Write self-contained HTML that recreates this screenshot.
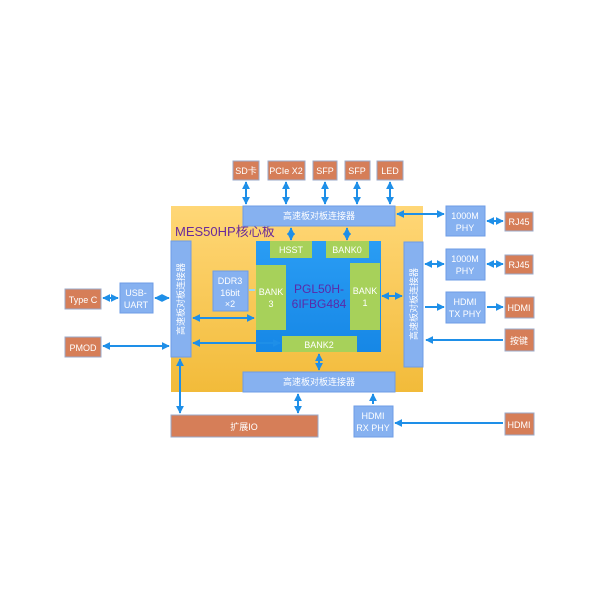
<!DOCTYPE html>
<html><head><meta charset="utf-8"><style>
html,body{margin:0;padding:0;background:#fff;}
svg{display:block;}
text{font-family:"Liberation Sans","Noto Sans CJK SC",sans-serif;}
</style></head><body>
<svg width="600" height="600" viewBox="0 0 600 600" xmlns="http://www.w3.org/2000/svg">
<defs>
<linearGradient id="yg" x1="0" y1="0" x2="0" y2="1"><stop offset="0" stop-color="#ffd777"/><stop offset="1" stop-color="#f2bb3a"/></linearGradient>
<linearGradient id="bg" x1="0" y1="0" x2="0" y2="1"><stop offset="0" stop-color="#2a9df4"/><stop offset="1" stop-color="#1687e6"/></linearGradient>
<marker id="a" viewBox="0 0 10 10" refX="9" refY="5" markerWidth="4" markerHeight="4" orient="auto-start-reverse"><path d="M0,0L10,5L0,10z" fill="#1e8fe8"/></marker>
</defs>
<rect x="171" y="206" width="252" height="186" fill="url(#yg)"/>
<text x="175" y="236" font-size="13" fill="#6a2a9a">MES50HP核心板</text>
<g fill="#d67e58" stroke="#9aa8c8" stroke-width="1">
<rect x="233" y="161" width="26" height="19"/><rect x="268" y="161" width="37" height="19"/>
<rect x="313" y="161" width="24" height="19"/><rect x="345" y="161" width="25" height="19"/>
<rect x="377" y="161" width="26" height="19"/>
<rect x="65" y="289" width="36" height="20"/><rect x="65" y="337" width="36" height="20"/>
<rect x="505" y="212" width="28" height="19"/><rect x="505" y="255" width="28" height="19"/>
<rect x="505" y="297" width="29" height="21"/><rect x="505" y="329" width="29" height="22"/>
<rect x="505" y="413" width="29" height="22"/>
<rect x="171" y="415" width="147" height="22"/>
</g>
<g fill="#fff" font-size="9" text-anchor="middle">
<text x="246" y="174">SD卡</text><text x="286" y="174">PCIe X2</text><text x="325" y="174">SFP</text><text x="357" y="174">SFP</text><text x="390" y="174">LED</text>
<text x="83" y="303">Type C</text><text x="83" y="351">PMOD</text>
<text x="519" y="225">RJ45</text><text x="519" y="268">RJ45</text><text x="519" y="311">HDMI</text><text x="519" y="344">按键</text><text x="519" y="428">HDMI</text>
<text x="244" y="430">扩展IO</text>
</g>
<g fill="#86b1f0" stroke="#6e9ce6" stroke-width="1">
<rect x="243" y="206" width="152" height="20"/><rect x="243" y="372" width="152" height="20"/>
<rect x="171" y="241" width="20" height="116"/><rect x="404" y="242" width="19" height="125"/>
<rect x="120" y="283" width="33" height="30"/><rect x="213" y="271" width="35" height="40"/>
<rect x="446" y="206" width="39" height="30"/><rect x="446" y="249" width="39" height="31"/>
<rect x="446" y="292" width="39" height="31"/><rect x="354" y="406" width="39" height="31"/>
</g>
<g fill="#fff" font-size="9" text-anchor="middle">
<text x="319" y="219">高速板对板连接器</text><text x="319" y="385">高速板对板连接器</text>
<text transform="translate(184,299) rotate(-90)">高速板对板连接器</text>
<text transform="translate(417,304) rotate(-90)">高速板对板连接器</text>
<text x="136" y="296">USB-</text><text x="136" y="308">UART</text>
<text x="230" y="284">DDR3</text><text x="230" y="296">16bit</text><text x="230" y="307">×2</text>
<text x="465" y="219">1000M</text><text x="465" y="231">PHY</text>
<text x="465" y="262">1000M</text><text x="465" y="274">PHY</text>
<text x="465" y="305">HDMI</text><text x="465" y="317">TX PHY</text>
<text x="373" y="419">HDMI</text><text x="373" y="431">RX PHY</text>
</g>
<rect x="256" y="241" width="125" height="111" fill="url(#bg)"/>
<g fill="#a7d15a">
<rect x="270" y="241" width="42" height="17"/><rect x="326" y="241" width="43" height="17"/>
<rect x="256" y="265" width="30" height="65"/><rect x="350" y="263" width="30" height="67"/>
<rect x="282" y="336" width="75" height="16"/>
</g>
<g fill="#fff" font-size="9" text-anchor="middle">
<text x="291" y="253">HSST</text><text x="347" y="253">BANK0</text>
<text x="271" y="295">BANK</text><text x="271" y="307">3</text>
<text x="365" y="294">BANK</text><text x="365" y="306">1</text>
<text x="319" y="348">BANK2</text>
</g>
<text x="319" y="293" font-size="12" fill="#5a2aa8" text-anchor="middle">PGL50H-</text>
<text x="319" y="308" font-size="12" fill="#5a2aa8" text-anchor="middle">6IFBG484</text>
<g stroke="#1e8fe8" stroke-width="2" fill="none">
<line x1="246" y1="182" x2="246" y2="204" marker-start="url(#a)" marker-end="url(#a)"/>
<line x1="286" y1="182" x2="286" y2="204" marker-start="url(#a)" marker-end="url(#a)"/>
<line x1="325" y1="182" x2="325" y2="204" marker-start="url(#a)" marker-end="url(#a)"/>
<line x1="357" y1="182" x2="357" y2="204" marker-start="url(#a)" marker-end="url(#a)"/>
<line x1="390" y1="182" x2="390" y2="204" marker-start="url(#a)" marker-end="url(#a)"/>
<line x1="291" y1="228" x2="291" y2="240" marker-start="url(#a)" marker-end="url(#a)"/>
<line x1="347" y1="228" x2="347" y2="240" marker-start="url(#a)" marker-end="url(#a)"/>
<line x1="397" y1="214" x2="444" y2="214" marker-start="url(#a)" marker-end="url(#a)"/>
<line x1="487" y1="221" x2="503" y2="221" marker-start="url(#a)" marker-end="url(#a)"/>
<line x1="425" y1="264" x2="444" y2="264" marker-start="url(#a)" marker-end="url(#a)"/>
<line x1="487" y1="264" x2="503" y2="264" marker-start="url(#a)" marker-end="url(#a)"/>
<line x1="425" y1="307" x2="444" y2="307" marker-end="url(#a)"/>
<line x1="487" y1="307" x2="503" y2="307" marker-end="url(#a)"/>
<line x1="503" y1="340" x2="426" y2="340" marker-end="url(#a)"/>
<line x1="503" y1="423" x2="395" y2="423" marker-end="url(#a)"/>
<line x1="373" y1="404" x2="373" y2="394" marker-end="url(#a)"/>
<line x1="382" y1="296" x2="402" y2="296" marker-start="url(#a)" marker-end="url(#a)"/>
<line x1="319" y1="354" x2="319" y2="370" marker-start="url(#a)" marker-end="url(#a)"/>
<line x1="298" y1="394" x2="298" y2="413" marker-start="url(#a)" marker-end="url(#a)"/>
<line x1="180" y1="359" x2="180" y2="413" marker-start="url(#a)" marker-end="url(#a)"/>
<line x1="193" y1="318" x2="254" y2="318" marker-start="url(#a)" marker-end="url(#a)"/>
<line x1="193" y1="343" x2="280" y2="343" marker-start="url(#a)" marker-end="url(#a)"/>
<line x1="103" y1="346" x2="169" y2="346" marker-start="url(#a)" marker-end="url(#a)"/>
<line x1="103" y1="298" x2="118" y2="298" marker-start="url(#a)" marker-end="url(#a)"/>
<line x1="155" y1="298" x2="169" y2="298" marker-start="url(#a)" marker-end="url(#a)"/>
<line x1="249" y1="290" x2="255" y2="290" stroke="#9cd8f5" stroke-width="2"/>
</g>
</svg>
</body></html>
